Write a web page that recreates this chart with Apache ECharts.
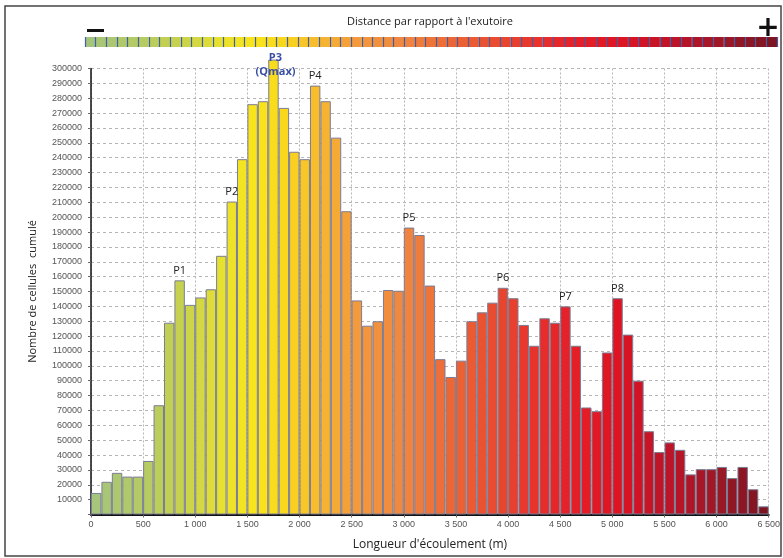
<!DOCTYPE html>
<html>
<head>
<meta charset="utf-8">
<script src="https://cdn.jsdelivr.net/npm/echarts@6/dist/echarts.min.js"></script>
<style>html,body{margin:0;padding:0;background:#fff;}#c{width:783px;height:558px;}</style>
</head>
<body>
<div id="c"></div>
<script>
// Bin start (m), each bin 100 m wide
const binStart = [0,100,200,300,400,500,600,700,800,900,1000,1100,1200,1300,1400,1500,1600,1700,1800,1900,
  2000,2100,2200,2300,2400,2500,2600,2700,2800,2900,3000,3100,3200,3300,3400,3500,3600,3700,3800,3900,
  4000,4100,4200,4300,4400,4500,4600,4700,4800,4900,5000,5100,5200,5300,5400,5500,5600,5700,5800,5900,
  6000,6100,6200,6300,6400];
// Nombre de cellules cumulé
const counts = [14500,22000,28000,25500,25500,36000,73500,129000,157500,141000,
  146000,151500,174000,210500,239000,276000,278000,306000,273500,244000,
  239000,288500,278000,253500,204000,144000,127000,130000,151000,150500,
  193000,188000,154000,104500,92500,103500,130000,136000,142500,152500,
  145500,127500,113500,132000,129000,140000,113500,72000,69500,109000,
  145500,121000,90000,56000,42000,48500,43500,27000,30500,30500,
  32000,24500,32000,17000,5500];
// Peak labels by bin start
const peaks = [[800,'P1'],[1300,'P2'],[1700,'P3'],[2100,'P4'],[3000,'P5'],[3900,'P6'],[4500,'P7'],[5000,'P8']];
const qmaxPeak = 'P3';

// colour ramp (style only)
const colorStops = [[0,'#a2c47e'],[600,'#b8cc5e'],[1000,'#cfd646'],[1300,'#eae22c'],[1600,'#f9e41a'],
  [1900,'#f9d41e'],[2200,'#f7b830'],[2500,'#f39c3c'],[3000,'#ef8640'],[3500,'#ec6434'],[4000,'#e8422e'],
  [4500,'#e5242a'],[5000,'#e11422'],[5500,'#bf1428'],[6000,'#9c1826'],[6500,'#7c1420']];
function hex2rgb(h){return [parseInt(h.substr(1,2),16),parseInt(h.substr(3,2),16),parseInt(h.substr(5,2),16)];}
function colorAt(x){
  for(let i=0;i<colorStops.length-1;i++){
    const a=colorStops[i],b=colorStops[i+1];
    if(x>=a[0]&&x<=b[0]){
      const t=(x-a[0])/(b[0]-a[0]);const ca=hex2rgb(a[1]),cb=hex2rgb(b[1]);
      return 'rgb('+ca.map((v,k)=>Math.round(v+(cb[k]-v)*t)).join(',')+')';
    }
  }
  return colorStops[colorStops.length-1][1];
}
const peakMap = {};
peaks.forEach(p=>{peakMap[binStart.indexOf(p[0])]=p[1];});
function fmtThousands(v){
  if(v>=1000){return Math.floor(v/1000)+' '+String(v%1000).padStart(3,'0');}
  return String(v);
}

const barData = counts.map((v,i)=>{
  const item = {value:v, itemStyle:{color:colorAt(binStart[i]+50)}};
  if(peakMap[i]===qmaxPeak){
    item.label = {show:true, formatter:'{q|P3}\n{q|(Qmax)}', offset:[2,23],
      rich:{q:{color:'#3b4ea6',fontWeight:'bold',fontSize:11,lineHeight:14,fontFamily:'Open Sans'}}};
  }
  return item;
});
const stripData = binStart.map(s=>({value:1,itemStyle:{color:colorAt(s+50)}}));

const chart = echarts.init(document.getElementById('c'),null,{renderer:'canvas'});
chart.setOption({
  animation:false,
  backgroundColor:'#fff',
  grid:[
    {left:91,right:12,top:68.5,bottom:43.5},
    {left:85,right:6,top:37,height:10}
  ],
  xAxis:[
    {type:'category',gridIndex:0,data:binStart,show:false,boundaryGap:true},
    {type:'value',gridIndex:0,min:0,max:6500,interval:500,position:'bottom',
      name:"Longueur d'écoulement (m)",nameLocation:'middle',nameGap:24,
      nameTextStyle:{fontSize:12,color:'#222',fontFamily:'Open Sans'},
      axisLine:{show:true,lineStyle:{color:'#111',width:2}},
      axisTick:{show:true,length:3,lineStyle:{color:'#666'}},
      axisLabel:{fontSize:9,color:'#555',margin:6,fontFamily:'Liberation Sans',formatter:fmtThousands},
      splitLine:{show:true,lineStyle:{color:'#b5b5b5',type:[2,2],width:1}}},
    {type:'category',gridIndex:1,data:binStart,show:true,z:5,
      axisLine:{show:false},axisTick:{show:false},axisLabel:{show:false},
      splitLine:{show:true,interval:0,lineStyle:{color:'#3f5fa8',width:1.2}}}
  ],
  yAxis:[
    {type:'value',gridIndex:0,min:0,max:300000,interval:10000,offset:5,
      name:'Nombre de cellules  cumulé',nameLocation:'middle',nameGap:48,nameRotate:90,
      nameTextStyle:{fontSize:11,color:'#222',fontFamily:'Open Sans'},
      axisLine:{show:true,lineStyle:{color:'#111',width:1.5}},
      axisTick:{show:true,length:3,lineStyle:{color:'#666'}},
      axisLabel:{fontSize:9,color:'#555',margin:4,fontFamily:'Liberation Sans',formatter:v=>v===0?'':String(v)},
      splitLine:{show:true,lineStyle:{color:'#b5b5b5',type:[3,3],width:1}}},
    {type:'value',gridIndex:1,min:0,max:1,show:false}
  ],
  series:[
    {type:'bar',xAxisIndex:0,yAxisIndex:0,data:barData,barCategoryGap:'0%',barWidth:'100%',clip:false,
      itemStyle:{borderColor:'#7a7d96',borderWidth:1},
      label:{show:true,position:'top',distance:4,fontSize:11,color:'#222',fontFamily:'Open Sans',
        formatter:p=>peakMap[p.dataIndex]||''},
      z:3},
    {type:'bar',xAxisIndex:2,yAxisIndex:1,data:stripData,barCategoryGap:'0%',barWidth:'100%',silent:true,
      z:-1,itemStyle:{borderWidth:0}}
  ],
  graphic:[
    {type:'rect',shape:{x:5,y:6,width:776,height:550},style:{fill:'none',stroke:'#444',lineWidth:1.5},silent:true},
    {type:'text',x:430,y:22,style:{text:"Distance par rapport à l'exutoire",fontSize:11,fill:'#222',
      fontFamily:'Open Sans',align:'center',verticalAlign:'middle'}},
    {type:'rect',shape:{x:87,y:29,width:17,height:3},style:{fill:'#111'}},
    {type:'text',x:768,y:29,style:{text:'+',fontSize:28,fontWeight:'bold',fill:'#111',
      fontFamily:'DejaVu Sans',align:'center',verticalAlign:'middle'}}
  ]
});
</script>
</body>
</html>
